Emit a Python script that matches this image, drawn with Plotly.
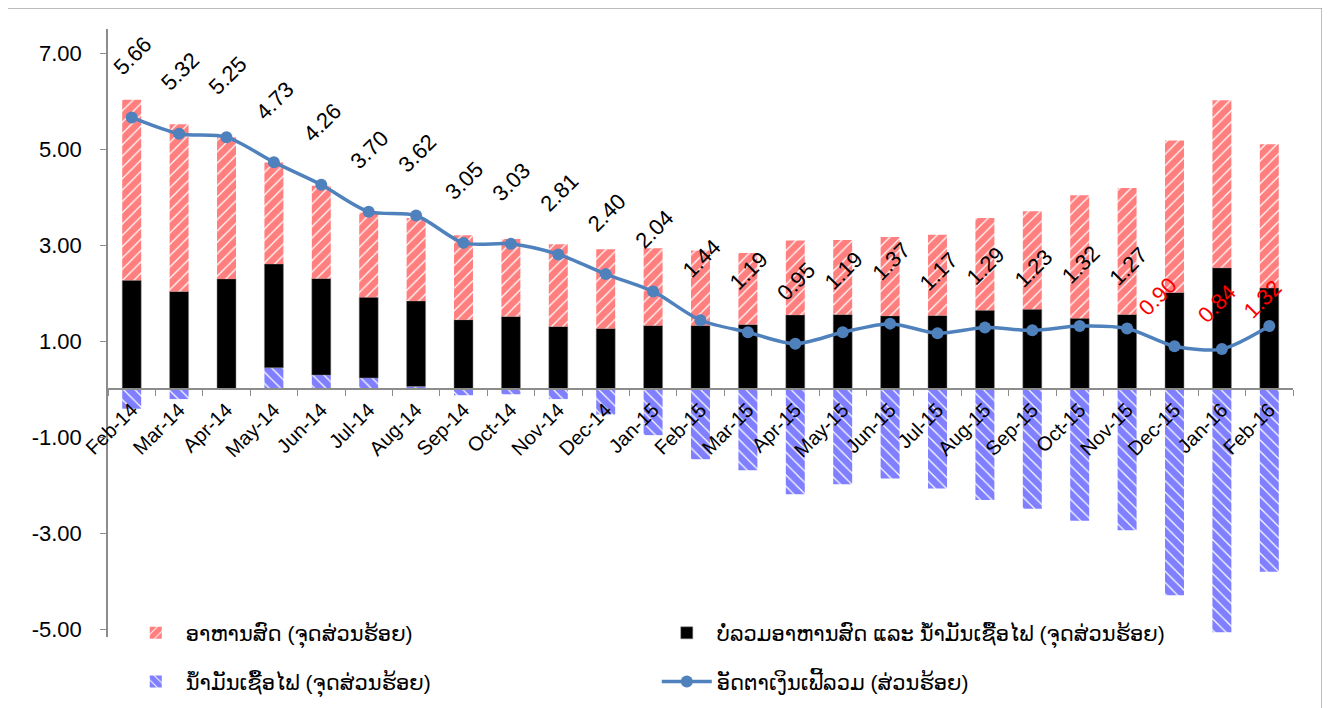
import plotly.graph_objects as go

# Monthly data, Feb-14 .. Feb-16
months = ["Feb-14", "Mar-14", "Apr-14", "May-14", "Jun-14", "Jul-14", "Aug-14",
          "Sep-14", "Oct-14", "Nov-14", "Dec-14", "Jan-15", "Feb-15", "Mar-15",
          "Apr-15", "May-15", "Jun-15", "Jul-15", "Aug-15", "Sep-15", "Oct-15",
          "Nov-15", "Dec-15", "Jan-16", "Feb-16"]

headline = [5.66, 5.32, 5.25, 4.73, 4.26, 3.70, 3.62, 3.05, 3.03, 2.81, 2.40, 2.04,
            1.44, 1.19, 0.95, 1.19, 1.37, 1.17, 1.29, 1.23, 1.32, 1.27, 0.90, 0.84, 1.32]

core = [2.27, 2.04, 2.30, 2.16, 2.01, 1.68, 1.78, 1.45, 1.52, 1.31, 1.27, 1.33,
        1.33, 1.35, 1.55, 1.56, 1.53, 1.54, 1.65, 1.67, 1.48, 1.56, 2.02, 2.53, 2.11]

food = [3.76, 3.48, 2.95, 2.11, 1.93, 1.76, 1.73, 1.76, 1.61, 1.71, 1.65, 1.61,
        1.56, 1.49, 1.55, 1.55, 1.64, 1.68, 1.92, 2.04, 2.56, 2.63, 3.16, 3.49, 2.99]

fuel = [-0.40, -0.20, 0.00, 0.45, 0.30, 0.24, 0.06, -0.12, -0.10, -0.20, -0.52, -0.95,
        -1.45, -1.68, -2.18, -1.97, -1.85, -2.06, -2.30, -2.48, -2.73, -2.93, -4.28, -5.05, -3.79]

y_ticks = [-5, -3, -1, 1, 3, 5, 7]
y_tick_text = ["-5.00", "-3.00", "-1.00", "1.00", "3.00", "5.00", "7.00"]

name_food = "ອາຫານສົດ (ຈຸດສ່ວນຮ້ອຍ)"
name_core = "ບໍ່ລວມອາຫານສົດ ແລະ ນ້ຳມັນເຊື້ອໄຟ (ຈຸດສ່ວນຮ້ອຍ)"
name_fuel = "ນ້ຳມັນເຊື້ອໄຟ (ຈຸດສ່ວນຮ້ອຍ)"
name_line = "ອັດຕາເງິນເຟີ້ລວມ (ສ່ວນຮ້ອຍ)"

FONT = "Liberation Sans, Arial, DejaVu Sans, sans-serif"
LINE_BLUE = "#4F81BD"
AXIS_GREY = "#8C8C8C"

# labels drawn in red, with their own offsets (px) from the point
red_labels = {"Dec-15": (-17, 50), "Jan-16": (-5, 46), "Feb-16": (-7, 27)}

fig = go.Figure()

# stacking order matters for relative mode: fuel, core, food
fig.add_trace(go.Bar(
    x=months, y=fuel, name=name_fuel, legend="legend2", legendrank=3,
    marker=dict(color="white", line=dict(width=0),
                pattern=dict(shape="\\", fgcolor="#0000FF", bgcolor="white",
                             size=8, solidity=0.85)),
))
fig.add_trace(go.Bar(
    x=months, y=core, name=name_core, legend="legend", legendrank=2,
    marker=dict(color="black", line=dict(color="#7F7F7F", width=0.5)),
))
fig.add_trace(go.Bar(
    x=months, y=food, name=name_food, legend="legend", legendrank=1,
    marker=dict(color="white", line=dict(width=0),
                pattern=dict(shape="/", fgcolor="#FF0000", bgcolor="white",
                             size=8, solidity=0.85)),
))
fig.add_trace(go.Scatter(
    x=months, y=headline, name=name_line, legend="legend2", legendrank=4,
    mode="lines+markers", line=dict(color=LINE_BLUE, width=3.5, shape="spline", smoothing=0.8),
    marker=dict(color=LINE_BLUE, size=12),
))

# rotated value labels
for m, v in zip(months, headline):
    dx, dy = red_labels.get(m, (1, 62))
    fig.add_annotation(
        x=m, y=v, text=f"{v:.2f}", showarrow=False, textangle=-45,
        xanchor="center", yanchor="middle", xshift=dx, yshift=dy,
        font=dict(family=FONT, size=22, color="red" if m in red_labels else "black"),
    )

# outer chart frame
fig.add_shape(type="rect", xref="paper", yref="paper",
              x0=-0.0878, x1=1.0245, y0=-0.14, y1=1.0345,
              line=dict(color="#A6A6A6", width=1.5), fillcolor="rgba(0,0,0,0)", layer="below")

ymin, ymax = -5.15, 7.5
legend_style = dict(
    orientation="h", xanchor="left", yanchor="top",
    entrywidth=466, entrywidthmode="pixels", itemwidth=50,
    font=dict(family=FONT, size=21), bgcolor="rgba(0,0,0,0)",
)
fig.update_layout(
    width=1330, height=708,
    # the page body adds an 8px offset, so margins are trimmed to compensate
    margin=dict(l=100, r=45, t=21, b=79, autoexpand=False),
    barmode="relative", bargap=0.6,
    plot_bgcolor="white", paper_bgcolor="white",
    font=dict(family=FONT, size=20, color="black"),
    xaxis=dict(
        type="category", range=[-0.5, len(months) - 0.5], automargin=False,
        anchor="free", position=(0 - ymin) / (ymax - ymin),
        showline=True, linecolor=AXIS_GREY, linewidth=1.5,
        ticks="outside", ticklen=6, tickcolor=AXIS_GREY, tickson="boundaries",
        tickangle=-45, tickfont=dict(family=FONT, size=20),
        showgrid=False, zeroline=False,
    ),
    yaxis=dict(
        range=[ymin, ymax], tickvals=y_ticks, ticktext=y_tick_text, automargin=False,
        showline=True, linecolor=AXIS_GREY, linewidth=1.5,
        ticks="outside", ticklen=6, tickcolor=AXIS_GREY, ticklabelstandoff=14,
        tickfont=dict(family=FONT, size=22),
        showgrid=False, zeroline=False,
    ),
    legend=dict(legend_style, x=0.015, y=0.04),
    legend2=dict(legend_style, x=0.015, y=-0.04),
)

fig.write_html("out.html")
